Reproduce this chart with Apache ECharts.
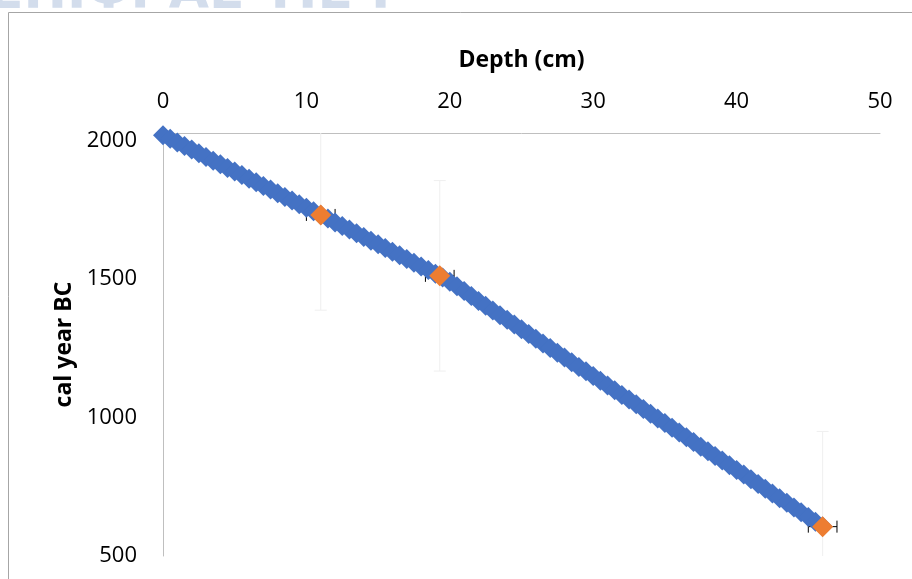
<!DOCTYPE html>
<html>
<head>
<meta charset="utf-8">
<script src="https://cdn.jsdelivr.net/npm/echarts@6/dist/echarts.min.js"></script>
<style>
  html, body { margin: 0; padding: 0; background: #fff; }
  #main { width: 912px; height: 579px; }
</style>
</head>
<body>
<div id="main"></div>
<script>
// age-depth model (blue diamonds)
var modelDepth = [0, 0.5, 1, 1.5, 2, 2.5, 3, 3.5, 4, 4.5, 5, 5.5, 6, 6.5, 7, 7.5, 8, 8.5, 9, 9.5,
    10, 10.5, 11, 11.5, 12, 12.5, 13, 13.5, 14, 14.5, 15, 15.5, 16, 16.5, 17, 17.5, 18, 18.5, 19, 19.5,
    20, 20.5, 21, 21.5, 22, 22.5, 23, 23.5, 24, 24.5, 25, 25.5, 26, 26.5, 27, 27.5, 28, 28.5, 29, 29.5,
    30, 30.5, 31, 31.5, 32, 32.5, 33, 33.5, 34, 34.5, 35, 35.5, 36, 36.5, 37, 37.5, 38, 38.5, 39, 39.5,
    40, 40.5, 41, 41.5, 42, 42.5, 43, 43.5, 44, 44.5, 45, 45.5, 46];
var modelAge = [2020, 2007, 1994, 1981, 1968, 1955, 1941, 1928, 1915, 1902, 1889, 1876, 1863, 1850, 1837, 1824, 1810, 1797, 1784, 1771,
    1758, 1745, 1732, 1719, 1705, 1692, 1679, 1666, 1652, 1639, 1626, 1613, 1599, 1586, 1573, 1559, 1546, 1533, 1520, 1506,
    1491, 1474, 1457, 1439, 1421, 1404, 1387, 1370, 1353, 1336, 1319, 1302, 1285, 1268, 1251, 1234, 1217, 1200, 1183, 1167,
    1150, 1133, 1116, 1099, 1082, 1065, 1048, 1031, 1014, 997, 980, 963, 946, 929, 912, 895, 878, 861, 845, 828,
    811, 794, 777, 760, 743, 726, 709, 692, 675, 658, 641, 624, 607];

// dated samples (orange diamonds) with errors
var datedDepth = [11.0, 19.3, 46.0];
var datedAge = [1732, 1512, 606];
var depthErr = [1, 1, 1];
var ageErr = [344, 344, 344];

var xTicks = [0, 10, 20, 30, 40, 50];
var yTicks = [500, 1000, 1500, 2000];

var font = '"Open Sans", "Noto Sans", sans-serif';

var modelData = [];
for (var i = 0; i < modelDepth.length; i++) {
    modelData.push([modelDepth[i], modelAge[i]]);
}
var datedData = [];
var errData = [];
for (var j = 0; j < datedDepth.length; j++) {
    datedData.push([datedDepth[j], datedAge[j]]);
    errData.push([datedDepth[j], datedAge[j], depthErr[j], ageErr[j]]);
}

function cap(x1, y1, x2, y2, color) {
    return {
        type: 'line',
        shape: { x1: x1, y1: y1, x2: x2, y2: y2 },
        style: { stroke: color, lineWidth: 1 }
    };
}

// vertical bars (very faint grey), clipped to the plot area
function renderAgeErr(params, api) {
    var top = api.coord([api.value(0), api.value(1) + api.value(3)]);
    var bot = api.coord([api.value(0), api.value(1) - api.value(3)]);
    var c = '#efefef';
    return {
        type: 'group',
        children: [
            cap(top[0], top[1], bot[0], bot[1], c),
            cap(top[0] - 6, top[1], top[0] + 6, top[1], c),
            cap(bot[0] - 6, bot[1], bot[0] + 6, bot[1], c)
        ]
    };
}

// horizontal bars (black)
function renderDepthErr(params, api) {
    var l = api.coord([api.value(0) - api.value(2), api.value(1)]);
    var r = api.coord([api.value(0) + api.value(2), api.value(1)]);
    var c = '#000';
    return {
        type: 'group',
        children: [
            cap(l[0], l[1], r[0], r[1], c),
            cap(l[0], l[1] - 6, l[0], l[1] + 6, c),
            cap(r[0], r[1] - 6, r[0], r[1] + 6, c)
        ]
    };
}

var myChart = echarts.init(document.getElementById('main'));
var option = {
    backgroundColor: '#fff',
    animation: false,
    graphic: [
        {
            type: 'text', left: -12, top: -32, z: -10,
            style: { text: 'ΕΠΙΦΡΑΣ ΤΙΣ Ι', font: 'bold 52px "DejaVu Sans"', fill: '#d3ddec' }
        },
        {
            type: 'rect', z: -5,
            shape: { x: 8.5, y: 12.5, width: 920, height: 600 },
            style: { fill: '#fff', stroke: '#a6a6a6', lineWidth: 1 }
        }
    ],
    grid: { left: 163, right: 32, top: 133, bottom: 23 },
    xAxis: {
        type: 'value',
        position: 'top',
        min: 0, max: 50, interval: 10,
        name: 'Depth (cm)',
        nameLocation: 'middle',
        nameGap: 61,
        nameTextStyle: { fontFamily: font, fontWeight: 'bold', fontSize: 23, color: '#000' },
        axisLine: { show: true, lineStyle: { color: '#bfbfbf', width: 1 } },
        axisTick: { show: false },
        splitLine: { show: false },
        axisLabel: {
            margin: 20, fontFamily: font, fontSize: 22, color: '#000',
            formatter: function (v) { return xTicks.indexOf(v) >= 0 ? String(v) : ''; }
        }
    },
    yAxis: {
        type: 'value',
        min: 500, max: 2028, interval: 500,
        name: 'cal year BC',
        nameLocation: 'middle',
        nameRotate: 90,
        nameGap: 18,
        nameTextStyle: { fontFamily: font, fontWeight: 'bold', fontSize: 23, color: '#000' },
        axisLine: { show: true, onZero: false, lineStyle: { color: '#bfbfbf', width: 1 } },
        axisTick: { show: false },
        splitLine: { show: false },
        axisLabel: {
            margin: 26, fontFamily: font, fontSize: 22, color: '#000',
            formatter: function (v) { return yTicks.indexOf(v) >= 0 ? String(v) : ''; }
        }
    },
    series: [
        {
            type: 'custom',
            name: 'age error',
            renderItem: renderAgeErr,
            data: errData,
            clip: true,
            z: 1,
            silent: true
        },
        {
            type: 'custom',
            name: 'depth error',
            renderItem: renderDepthErr,
            data: errData,
            clip: true,
            z: 1,
            silent: true
        },
        {
            type: 'scatter',
            name: 'model',
            data: modelData,
            symbol: 'diamond',
            symbolSize: 20,
            itemStyle: { color: '#4472c4', opacity: 1 },
            clip: false,
            z: 2
        },
        {
            type: 'scatter',
            name: 'dated',
            data: datedData,
            symbol: 'diamond',
            symbolSize: 21,
            itemStyle: { color: '#ed7d31', opacity: 1 },
            clip: false,
            z: 3
        }
    ]
};
myChart.setOption(option);
</script>
</body>
</html>
